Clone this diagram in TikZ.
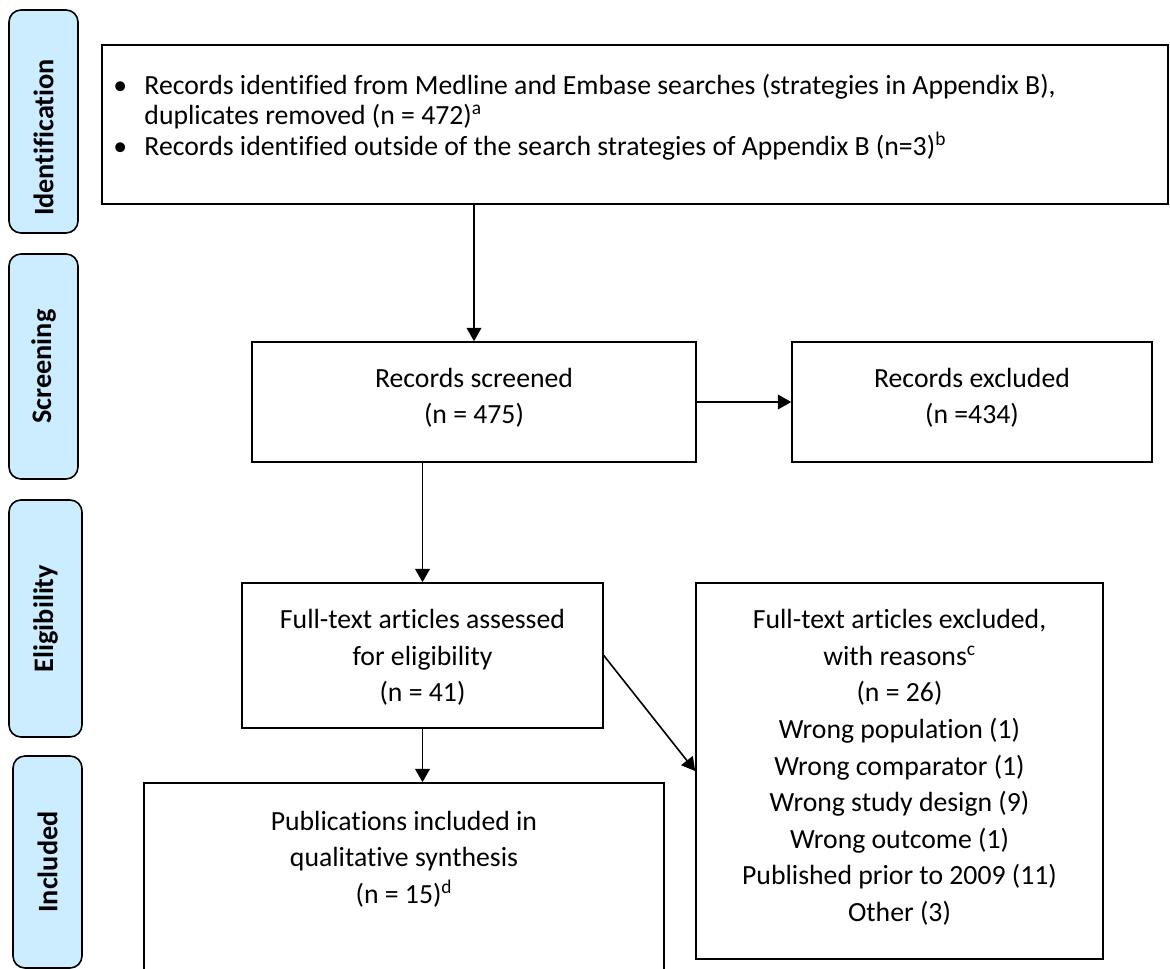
\documentclass[tikz,border=0pt]{standalone}
\usepackage{fontspec}
\setmainfont{Carlito}[Ligatures=NoCommon]
\usetikzlibrary{arrows.meta}
\definecolor{stageblue}{RGB}{204,236,255}

\begin{document}
\begin{tikzpicture}[x=0.75pt, y=-0.75pt,
  flowbox/.style={draw, line width=1.2pt, inner sep=0pt},
  stagebox/.style={draw, line width=1.2pt, fill=stageblue, rounded corners=9pt, inner sep=0pt},
  stagetext/.style={rotate=90, inner sep=0pt, font=\fontsize{21.2}{25}\selectfont\bfseries},
  flowtext/.style={anchor=base, inner sep=0pt, font=\fontsize{20.8}{27.4}\selectfont},
  flowarrow/.style={line width=1.2pt, -{Triangle[length=10pt, width=11pt]}}]

\useasboundingbox (0,0) rectangle (1170,968);

% stages on the left
\node[stagebox, minimum width=51.75pt, minimum height=167.25pt] (sid) at (43.5,121.5) {};
\node[stagebox, minimum width=51.75pt, minimum height=168.75pt] (sscr) at (43.5,366.5) {};
\node[stagebox, minimum width=54.75pt, minimum height=177.75pt] (selg) at (45.5,618.5) {};
\node[stagebox, minimum width=51.75pt, minimum height=159pt] (sinc) at (47.5,862) {};

\node[stagetext] (lid) at (43.5,137.5) {Identification};
\node[stagetext] (lscr) at (sscr.center) {Screening};
\node[stagetext] (lelg) at (selg.center) {Eligibility};
\node[stagetext] (linc) at (sinc.center) {Included};

% boxes
\node[flowbox, minimum width=799.5pt, minimum height=119.25pt] (ident) at (635,124.5) {};
\node[flowbox, minimum width=333pt, minimum height=90pt] (scr) at (474,402) {};
\node[flowbox, minimum width=270pt, minimum height=90pt] (exc) at (972,402) {};
\node[flowbox, minimum width=270.75pt, minimum height=108.75pt] (assess) at (422.5,655.5) {};
\node[flowbox, minimum width=305.25pt, minimum height=282pt] (ftex) at (899.5,771) {};
\node[flowbox, minimum width=390pt, minimum height=141.75pt] (pub) at (404,877.5) {};

% texts
\node[flowtext, anchor=base west, font=\fontsize{20.8}{22.9}\selectfont] (identtxt)
  at ([xshift=9pt, yshift=-37.5pt]ident.north west)
  {\parbox[t]{780pt}{\raggedright
  \makebox[23.25pt][l]{\textbullet}Records identified from Medline and Embase searches (strategies in Appendix B),\\
  \hspace*{23.25pt}duplicates removed (n = 472)\textsuperscript{a}\\
  \makebox[23.25pt][l]{\textbullet}Records identified outside of the search strategies of Appendix B (n=3)\textsuperscript{b}}};
\node[flowtext] (scrtxt) at ([yshift=-34.5pt]scr.north)
  {\parbox[t]{300pt}{\centering Records screened\\(n = 475)}};
\node[flowtext] (exctxt) at ([yshift=-34.5pt]exc.north)
  {\parbox[t]{260pt}{\centering Records excluded\\(n =434)}};
\node[flowtext] (asstxt) at ([yshift=-35pt]assess.north)
  {\parbox[t]{260pt}{\centering Full-text articles assessed\\for eligibility\\(n = 41)}};
\node[flowtext] (fttxt) at ([yshift=-35pt]ftex.north)
  {\parbox[t]{300pt}{\centering Full-text articles excluded,\\with reasons\textsuperscript{c}\\(n = 26)\\Wrong population (1)\\Wrong comparator (1)\\Wrong study design (9)\\Wrong outcome (1)\\Published prior to 2009 (11)\\Other (3)}};
\node[flowtext] (pubtxt) at ([yshift=-36pt]pub.north)
  {\parbox[t]{380pt}{\centering Publications included in\\qualitative synthesis\\(n = 15)\textsuperscript{d}}};

% arrows
\draw[flowarrow] (scr.north |- ident.south) -- (scr.north);
\draw[flowarrow] (scr.east) -- (exc.west);
\draw[flowarrow] (assess.north |- scr.south) -- (assess.north);
\draw[flowarrow] (assess.south) -- (assess.south |- pub.north);
\draw[flowarrow] (assess.east) -- (ftex.west);

\end{tikzpicture}
\end{document}
